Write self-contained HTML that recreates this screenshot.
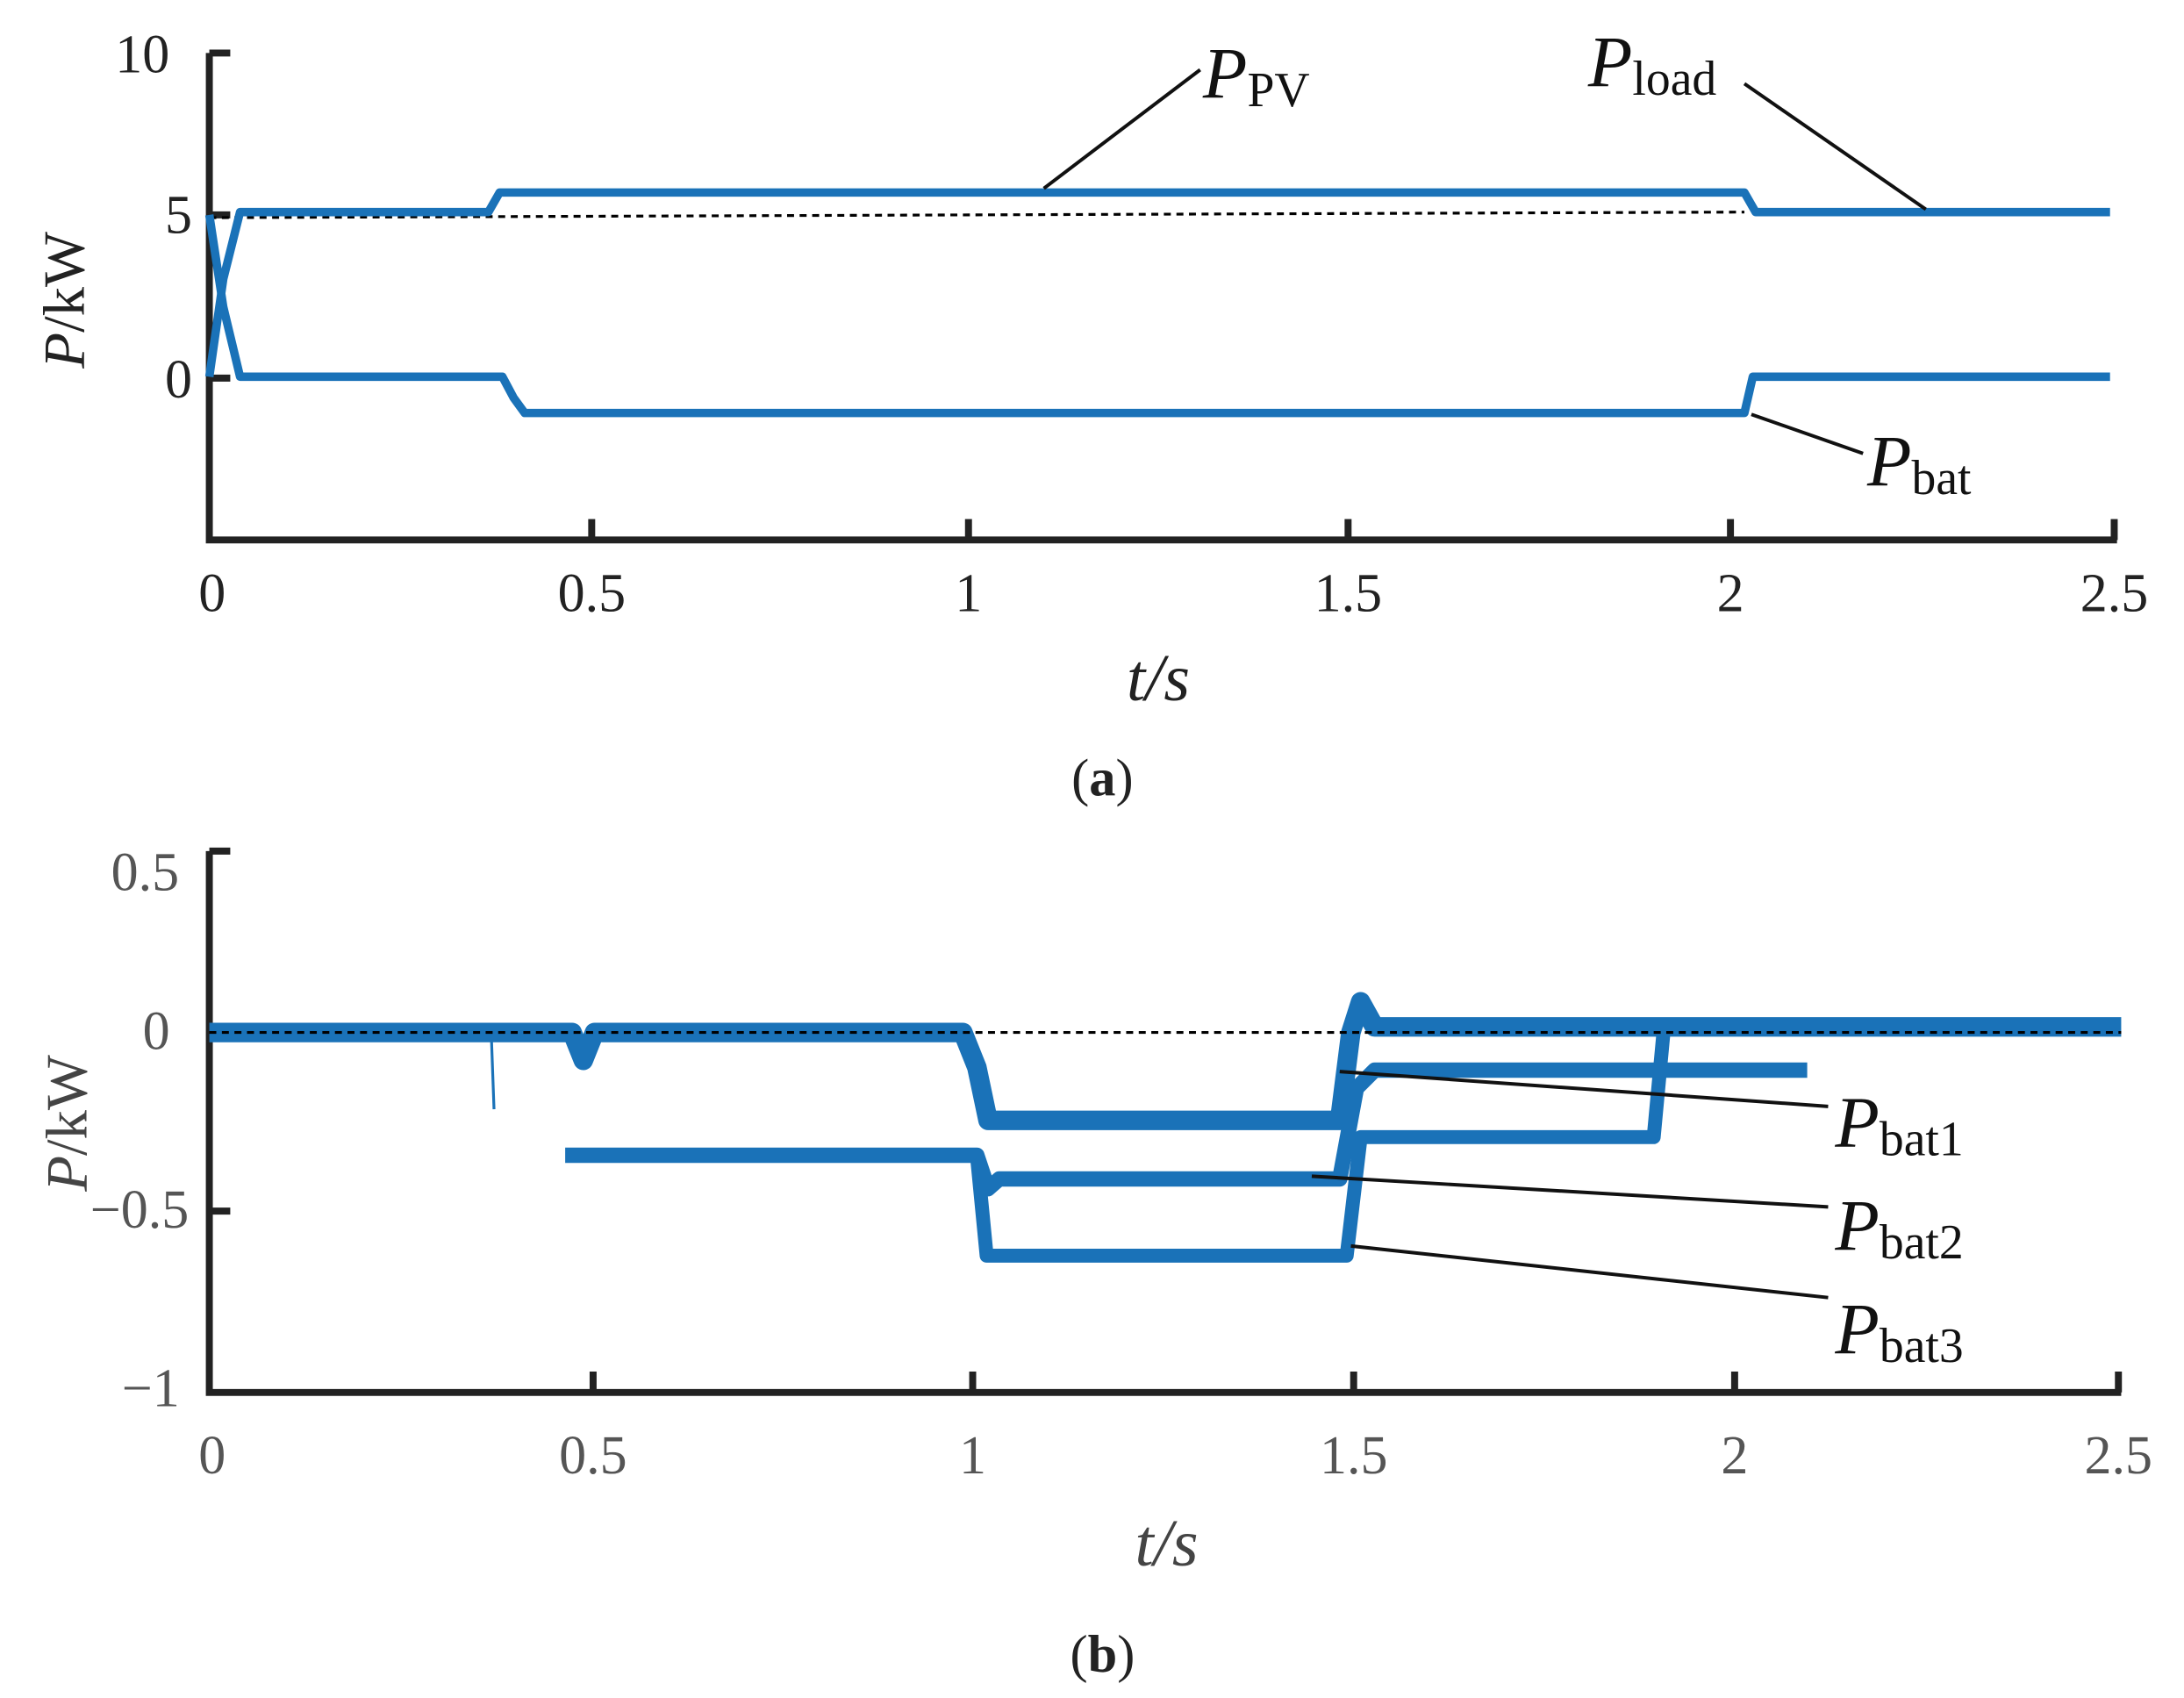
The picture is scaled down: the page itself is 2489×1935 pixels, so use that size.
<!DOCTYPE html>
<html><head><meta charset="utf-8"><style>html,body{margin:0;padding:0;background:#fff}svg{display:block}</style></head>
<body>
<svg width="2489" height="1935" viewBox="0 0 1565 1217" preserveAspectRatio="none" xmlns="http://www.w3.org/2000/svg" font-family="Liberation Serif, serif">
<rect width="1565" height="1217" fill="#fff"/>
<!-- Plot (a) -->
<g stroke="#222" stroke-width="5" fill="none">
<path d="M150,38 V387 H1517"/>
<path d="M150,38 h15 M150,154 h15 M150,271 h15"/>
<path d="M424,387 v-15 M694,387 v-15 M966,387 v-15 M1240,387 v-15 M1515,387 v-15"/>
</g>
<g font-size="39" fill="#222" text-anchor="middle">
<text x="102" y="52">10</text><text x="128" y="167">5</text><text x="128" y="285">0</text>
<text x="152" y="438">0</text><text x="424" y="438">0.5</text><text x="694" y="438">1</text><text x="966" y="438">1.5</text><text x="1240" y="438">2</text><text x="1515" y="438">2.5</text>
</g>
<text transform="translate(60,215) rotate(-90)" font-size="42" text-anchor="middle" fill="#222"><tspan font-style="italic">P</tspan>/kW</text>
<text x="830" y="502" font-size="48" font-style="italic" text-anchor="middle" fill="#222">t/s</text>
<text x="790" y="570" font-size="38" text-anchor="middle" fill="#222">(<tspan font-weight="bold">a</tspan>)</text>
<path d="M150,156 L1250,152" stroke="#000" stroke-width="2" stroke-dasharray="5,4" fill="none"/>
<g stroke="#1a72b8" stroke-width="6" fill="none" stroke-linejoin="round">
<path d="M150,270 L160,200 L172,152 L350,152 L358,138 L1250,138 L1258,152 L1512,152"/>
<path d="M150,154 L160,220 L172,270 L360,270 L368,285 L376,296 L1250,296 L1256,270 L1512,270"/>
</g>
<g stroke="#111" stroke-width="2.5" fill="none">
<path d="M860,50 L748,135"/><path d="M1250,60 L1380,150"/><path d="M1255,297 L1335,325"/>
</g>
<g fill="#111" font-style="italic">
<text x="862" y="70" font-size="52">P<tspan font-size="35" font-style="normal" dy="6">PV</tspan></text>
<text x="1138" y="62" font-size="52">P<tspan font-size="35" font-style="normal" dy="6">load</tspan></text>
<text x="1338" y="348" font-size="52">P<tspan font-size="35" font-style="normal" dy="6">bat</tspan></text>
</g>
<!-- Plot (b) -->
<g stroke="#222" stroke-width="5" fill="none">
<path d="M150,610 V998 H1520"/>
<path d="M150,610 h15 M150,740 h15 M150,868 h15"/>
<path d="M425,998 v-15 M697,998 v-15 M970,998 v-15 M1243,998 v-15 M1518,998 v-15"/>
</g>
<g font-size="39" fill="#555" text-anchor="middle">
<text x="104" y="638">0.5</text><text x="112" y="752">0</text><text x="100" y="880">−0.5</text><text x="108" y="1008">−1</text>
<text x="152" y="1056">0</text><text x="425" y="1056">0.5</text><text x="697" y="1056">1</text><text x="970" y="1056">1.5</text><text x="1243" y="1056">2</text><text x="1518" y="1056">2.5</text>
</g>
<text transform="translate(62,805) rotate(-90)" font-size="42" text-anchor="middle" fill="#444"><tspan font-style="italic">P</tspan>/kW</text>
<text x="836" y="1122" font-size="48" font-style="italic" text-anchor="middle" fill="#444">t/s</text>
<text x="790" y="1198" font-size="38" text-anchor="middle" fill="#222">(<tspan font-weight="bold">b</tspan>)</text>
<g stroke="#1a72b8" fill="none" stroke-linejoin="round">
<path d="M150,740 L410,740 L418,760 L426,740 L690,740 L700,765 L708,803 L960,803 L968,740 L975,718 L985,736 L1520,736" stroke-width="14"/>
<path d="M405,828 L700,828 L708,852 L716,845 L960,845 L972,780 L985,767 L1295,767" stroke-width="11"/>
<path d="M700,828 L707,900 L965,900 L975,815 L1185,815 L1192,740" stroke-width="10"/>
<path d="M352,740 L354,795" stroke-width="2"/>
</g>
<path d="M150,740 L1520,740" stroke="#000" stroke-width="2" stroke-dasharray="5,4" fill="none"/>
<g stroke="#111" stroke-width="2.5" fill="none">
<path d="M960,768 L1310,793"/><path d="M940,843 L1310,865"/><path d="M968,893 L1310,930"/>
</g>
<g fill="#111" font-style="italic">
<text x="1315" y="822" font-size="52">P<tspan font-size="35" font-style="normal" dy="6">bat1</tspan></text>
<text x="1315" y="896" font-size="52">P<tspan font-size="35" font-style="normal" dy="6">bat2</tspan></text>
<text x="1315" y="970" font-size="52">P<tspan font-size="35" font-style="normal" dy="6">bat3</tspan></text>
</g>
</svg>
</body></html>
